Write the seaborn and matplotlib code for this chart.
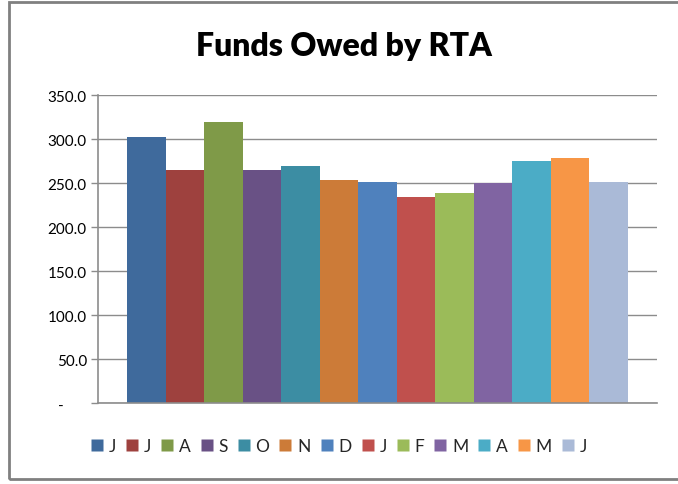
import matplotlib
matplotlib.use('Agg')
import matplotlib.pyplot as plt
import pandas as pd
import seaborn as sns
from matplotlib.lines import Line2D
from matplotlib.patches import Rectangle

# Data
months = ['Jun1', 'Jul', 'Aug', 'Sep', 'Oct', 'Nov', 'Dec', 'Jan', 'Feb', 'Mar', 'Apr', 'May', 'Jun2']
labels = ['J', 'J', 'A', 'S', 'O', 'N', 'D', 'J', 'F', 'M', 'A', 'M', 'J']
values = [302, 264.5, 319, 264.5, 269.5, 253.5, 251, 234.5, 238.5, 249.5, 275.5, 278, 251]
colors = ['#3F6A9C', '#9E413E', '#7F9A48', '#695185', '#3C8DA3', '#CC7B38', '#4F81BD',
          '#C0504D', '#9BBB59', '#8064A2', '#4BACC6', '#F79646', '#AABAD7']
yticks = [0, 50, 100, 150, 200, 250, 300, 350]

df = pd.DataFrame({'group': ['all'] * len(months), 'month': months, 'value': values})

sns.set_style('white')
plt.rcParams['font.family'] = ['Lato', 'DejaVu Sans']

fig = plt.figure(figsize=(6.78, 4.85), dpi=100)
ax = fig.add_axes([0.1445, 0.167, 0.8245, 0.635])

sns.barplot(data=df, x='group', y='value', hue='month', hue_order=months,
            palette=colors, saturation=1, width=0.8, ax=ax, legend=False,
            edgecolor='none', linewidth=0)

ax.set_xlim(-0.4467, 0.4467)
ax.set_ylim(0, 350)
ax.set_yticks(yticks)
ax.set_yticklabels(['-' + ' ' * 6] + ['{:.1f}'.format(v) for v in yticks[1:]], fontsize=11)
ax.set_xticks([])
ax.set_xlabel('')
ax.set_ylabel('')

ax.yaxis.grid(True, color='#8C8C8C', linewidth=1)
ax.set_axisbelow(True)
ax.tick_params(axis='y', which='both', left=True, length=5, width=1, color='#8C8C8C',
               pad=3, labelcolor='black')
for side in ['top', 'right']:
    ax.spines[side].set_visible(False)
for side in ['left', 'bottom']:
    ax.spines[side].set_color('#8C8C8C')
    ax.spines[side].set_linewidth(1.2)

fig.text(0.508, 0.905, 'Funds Owed by RTA', ha='center', va='center',
         fontsize=23, fontweight='heavy', color='black')

handles = [Line2D([], [], marker='s', linestyle='none', markersize=8,
                  markerfacecolor=c, markeredgecolor='none') for c in colors]
fig.legend(handles, labels, loc='center', bbox_to_anchor=(0.5, 0.078), ncol=13,
           frameon=False, fontsize=12.5, handlelength=0.65, handletextpad=0.35,
           columnspacing=0.6)

# outer chart border (cropped on the right like the reference)
fig.patches.append(Rectangle((8.5 / 678, 1 - 480 / 485), 1.2, (480 - 3) / 485,
                             transform=fig.transFigure, fill=False,
                             edgecolor='#808080', linewidth=2))

fig.savefig('out.png', dpi=100)
